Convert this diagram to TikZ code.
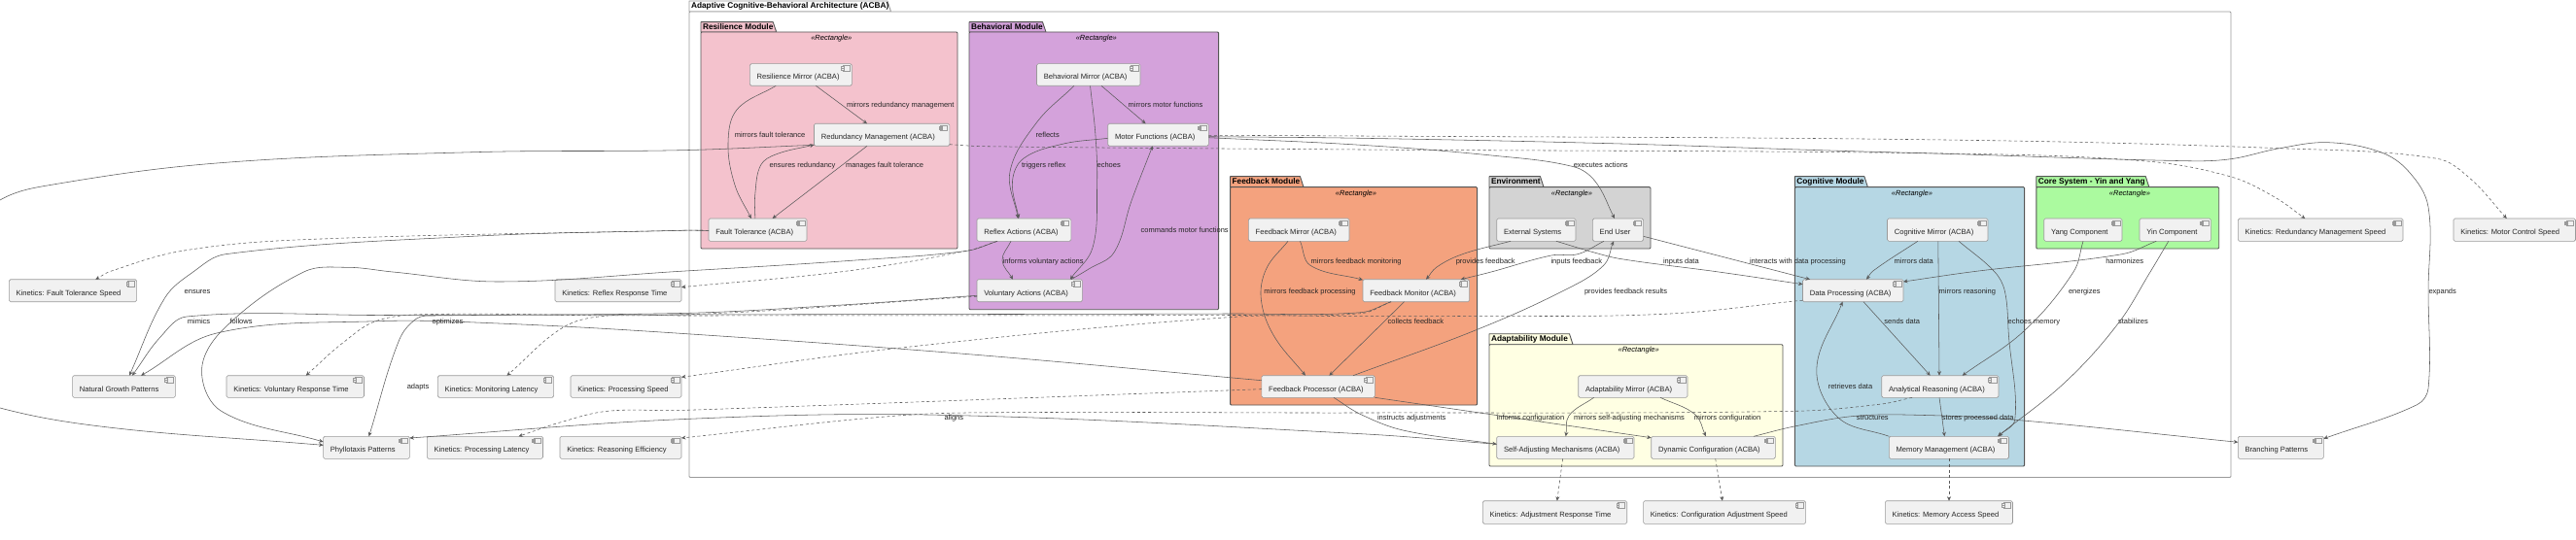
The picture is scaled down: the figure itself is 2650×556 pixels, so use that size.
\documentclass[tikz,border=0pt]{standalone}
\usepackage{fontspec}
\setmainfont{Liberation Sans}
\usetikzlibrary{arrows.meta}
\definecolor{lc}{HTML}{5A5A5A}
\definecolor{nodefill}{HTML}{F1F1F1}
\definecolor{nodeline}{HTML}{9A9A9A}
\definecolor{pkline}{HTML}{555555}
\definecolor{cres}{HTML}{F4C2CD}
\definecolor{cbeh}{HTML}{D4A2DB}
\definecolor{cfee}{HTML}{F4A27E}
\definecolor{cenv}{HTML}{D3D3D3}
\definecolor{ccog}{HTML}{B6D7E4}
\definecolor{ccor}{HTML}{ABFA9F}
\definecolor{cada}{HTML}{FFFFE3}
\tikzset{
 comp/.style={draw=nodeline,fill=nodefill,line width=.6pt,rounded corners=1.5pt,inner sep=0pt,outer sep=0pt,anchor=north west,font=\fontsize{7.6}{9}\selectfont,text=black!85},
 iconbox/.style={draw=nodeline,fill=nodefill,line width=.6pt},
 link/.style={draw=lc,line width=.55pt,-{Stealth[length=4.5pt,width=4pt,inset=1.5pt]}},
 dlink/.style={link,dash pattern=on 3pt off 2.6pt},
 lab/.style={inner sep=0pt,outer sep=0pt,anchor=west,yshift=-.6pt,font=\fontsize{7.5}{9}\selectfont,text=black!85,text height=5.6pt,text depth=1.6pt},
 pktitle/.style={inner sep=0pt,outer sep=0pt,anchor=west,yshift=-.4pt,font=\fontsize{8.3}{9}\bfseries\selectfont,text height=5.6pt,text depth=1.6pt},
 stereo/.style={inner sep=0pt,outer sep=0pt,yshift=-.7pt,font=\fontsize{7.5}{9}\itshape\selectfont,text height=5.6pt,text depth=1.6pt}
}
\newcommand\compnode[6]{%
 \pgfmathsetmacro\cw{#4-#2}\pgfmathsetmacro\ch{#5-#3}%
 \node[comp,minimum height=\ch pt] (#1) at (#2,#3) {\makebox[\cw pt][l]{\hspace{7.3pt}\raisebox{-5pt}[0pt][0pt]{#6}}};
 \draw[iconbox] ([xshift=-9.4,yshift=-2]#1.north east) rectangle ([xshift=-2.2,yshift=-7.3]#1.north east);
 \draw[iconbox] ([xshift=-10.8,yshift=-3]#1.north east) rectangle ([xshift=-8,yshift=-4.2]#1.north east);
 \draw[iconbox] ([xshift=-10.8,yshift=-5]#1.north east) rectangle ([xshift=-8,yshift=-6.2]#1.north east);
}
\newcommand\pkg[9]{%
 \draw[#8,line width=.9pt,line join=round] (#2,#4) -- (#2,#3) -- (#5-3.5,#3) -- (#5,#4) -- cycle;
 \draw[#8,line width=.9pt,rounded corners=1pt] (#2,#4) rectangle (#6,#7);
 \node[pktitle] (#1) at (#2+2,#3+5) {#9};
}
\newcommand\lab[4]{\node[lab] (#1) at (#2,#3) {#4};}
\newcount\splN
\def\spX#1{\csname spx#1\endcsname}
\def\spY#1{\csname spy#1\endcsname}
\def\spD#1{\csname spd#1\endcsname}
\def\spTx#1{\csname sptx#1\endcsname}
\def\spTy#1{\csname spty#1\endcsname}
\newcommand\spl[2]{%
 \global\splN=0
 \foreach \c in {#2}{%
  \global\advance\splN by 1
  \path \c coordinate (spcur);
  \pgfpointanchor{spcur}{center}\pgfgetlastxy{\xx}{\yy}%
  \pgfmathsetmacro\sxx{\xx}\pgfmathsetmacro\syy{\yy}%
  \expandafter\xdef\csname spx\the\splN\endcsname{\sxx}%
  \expandafter\xdef\csname spy\the\splN\endcsname{\syy}%
 }%
 \edef\spn{\the\splN}%
 \pgfmathtruncatemacro\spm{\spn-1}%
 \foreach \i in {1,...,\spm}{%
  \pgfmathtruncatemacro\ip{\i+1}%
  \pgfmathsetmacro\dd{veclen((\spX{\ip})-(\spX{\i}),(\spY{\ip})-(\spY{\i}))}%
  \expandafter\xdef\csname spd\i\endcsname{\dd}%
 }%
 \foreach \i in {1,...,\spn}{%
  \pgfmathtruncatemacro\ia{\i==1?1:\i-1}%
  \pgfmathtruncatemacro\ib{\i==\spn?\spn:\i+1}%
  \pgfmathtruncatemacro\da{\i==1?0:1}%
  \pgfmathtruncatemacro\db{\i==\spn?0:1}%
  \ifnum\da=1 \edef\dsa{\spD{\ia}}\else\def\dsa{0}\fi
  \ifnum\db=1 \edef\dsb{\spD{\i}}\else\def\dsb{0}\fi
  \pgfmathsetmacro\ss{\dsa+\dsb}%
  \pgfmathsetmacro\tx{((\spX{\ib})-(\spX{\ia}))/\ss}%
  \pgfmathsetmacro\ty{((\spY{\ib})-(\spY{\ia}))/\ss}%
  \expandafter\xdef\csname sptx\i\endcsname{\tx}%
  \expandafter\xdef\csname spty\i\endcsname{\ty}%
 }%
 \xdef\splpath{(\spX{1}pt,\spY{1}pt)}%
 \foreach \i in {1,...,\spm}{%
  \pgfmathtruncatemacro\ip{\i+1}%
  \pgfmathsetmacro\hh{\spD{\i}*0.36}%
  \pgfmathsetmacro\cax{\spX{\i}+\spTx{\i}*\hh}%
  \pgfmathsetmacro\cay{\spY{\i}+\spTy{\i}*\hh}%
  \pgfmathsetmacro\cbx{\spX{\ip}-\spTx{\ip}*\hh}%
  \pgfmathsetmacro\cby{\spY{\ip}-\spTy{\ip}*\hh}%
  \xdef\splpath{\splpath\space .. controls (\cax pt,\cay pt) and (\cbx pt,\cby pt) .. (\spX{\ip}pt,\spY{\ip}pt)}%
 }%
 \draw[#1] \splpath;
}
\begin{document}
\begin{tikzpicture}[x=1pt,y=-1pt]
\useasboundingbox (0,0) rectangle (2650,556);
\clip (0,0) rectangle (2650,556);
\fill[white] (0,0) rectangle (2650,556);
\pkg{tacba}{709}{1}{12}{916.5}{2295}{491.5}{draw=nodeline,fill=white}{Adaptive Cognitive-Behavioral Architecture (ACBA)}
\pkg{tres}{721}{22.7}{33}{798.7}{985}{256}{draw=pkline,fill=cres}{Resilience Module}
\pkg{tbeh}{997}{22.7}{33}{1076}{1253.6}{318.7}{draw=pkline,fill=cbeh}{Behavioral Module}
\pkg{tfee}{1265.6}{181.7}{192.7}{1341}{1519.6}{417}{draw=pkline,fill=cfee}{Feedback Module}
\pkg{tenv}{1532}{181.7}{192.7}{1588}{1698}{256}{draw=pkline,fill=cenv}{Environment}
\pkg{tcog}{1846.4}{181.7}{192.7}{1921.4}{2082.6}{480}{draw=pkline,fill=ccog}{Cognitive Module}
\pkg{tcor}{2094.8}{181.7}{192.7}{2210.8}{2282.7}{256}{draw=pkline,fill=ccor}{Core System - Yin and Yang}
\pkg{tada}{1532}{343.7}{354.7}{1618}{1834}{480}{draw=pkline,fill=cada}{Adaptability Module}
\node[stereo] (sres) at (855.3,38.7) {«Rectangle»};
\node[stereo] (sbeh) at (1127.8,38.7) {«Rectangle»};
\node[stereo] (sfee) at (1395,198.7) {«Rectangle»};
\node[stereo] (senv) at (1617,198.7) {«Rectangle»};
\node[stereo] (scog) at (1967,198.7) {«Rectangle»};
\node[stereo] (scor) at (2191,198.7) {«Rectangle»};
\node[stereo] (sada) at (1685.7,359.7) {«Rectangle»};
\compnode{rm}{771.4}{65.7}{876.3}{88.3}{Resilience Mirror (ACBA)}
\compnode{rd}{837.5}{127.3}{976.8}{150.3}{Redundancy Management (ACBA)}
\compnode{ft}{729}{225}{830}{248.3}{Fault Tolerance (ACBA)}
\compnode{bm}{1066.5}{65.7}{1173}{88.3}{Behavioral Mirror (ACBA)}
\compnode{mf}{1139.7}{127.3}{1243.3}{150.3}{Motor Functions (ACBA)}
\compnode{ra}{1005}{225}{1101.8}{248.3}{Reflex Actions (ACBA)}
\compnode{va}{1005}{287.7}{1113.4}{310.7}{Voluntary Actions (ACBA)}
\compnode{fm}{1284.4}{225}{1388}{248.3}{Feedback Mirror (ACBA)}
\compnode{fo}{1402}{287.7}{1511.6}{310.7}{Feedback Monitor (ACBA)}
\compnode{fp}{1297.8}{386.7}{1414.3}{409.3}{Feedback Processor (ACBA)}
\compnode{es}{1539.7}{225}{1621}{248.3}{External Systems}
\compnode{eu}{1638.4}{225}{1690.6}{248.3}{End User}
\compnode{cm}{1941.5}{225}{2045}{248.3}{Cognitive Mirror (ACBA)}
\compnode{dp}{1854.5}{287.7}{1958}{310.7}{Data Processing (ACBA)}
\compnode{ar}{1935.7}{386.7}{2056}{409.3}{Analytical Reasoning (ACBA)}
\compnode{mm}{1943.3}{449.3}{2066.5}{472.3}{Memory Management (ACBA)}
\compnode{am}{1623.7}{386.7}{1736}{409.3}{Adaptability Mirror (ACBA)}
\compnode{sa}{1539.7}{449.3}{1681}{472.3}{Self-Adjusting Mechanisms (ACBA)}
\compnode{dc}{1698.7}{449.3}{1826.3}{472.3}{Dynamic Configuration (ACBA)}
\compnode{ya}{2102.7}{225}{2183}{248.3}{Yang Component}
\compnode{yi}{2201}{225}{2274.4}{248.3}{Yin Component}
\compnode{krm}{2302.3}{225}{2472}{248.3}{Kinetics: Redundancy Management Speed}
\compnode{kmc}{2524}{225}{2649.5}{248.3}{Kinetics: Motor Control Speed}
\compnode{bp}{2302.3}{449.3}{2390.4}{472.3}{Branching Patterns}
\compnode{kma}{1939.3}{515.7}{2070.5}{539.3}{Kinetics: Memory Access Speed}
\compnode{kca}{1690.6}{515.7}{1857.6}{539.3}{Kinetics: Configuration Adjustment Speed}
\compnode{kar}{1525.4}{515.7}{1673.7}{539.3}{Kinetics: Adjustment Response Time}
\compnode{kft}{9.4}{287.7}{140.6}{310.7}{Kinetics: Fault Tolerance Speed}
\compnode{krr}{571}{287.7}{701}{310.7}{Kinetics: Reflex Response Time}
\compnode{ngp}{74.6}{386.7}{180.4}{409.3}{Natural Growth Patterns}
\compnode{kvr}{233}{386.7}{374.5}{409.3}{Kinetics: Voluntary Response Time}
\compnode{kml}{450.4}{386.7}{569.6}{409.3}{Kinetics: Monitoring Latency}
\compnode{kps}{587}{386.7}{701}{409.3}{Kinetics: Processing Speed}
\compnode{php}{332.6}{449.3}{421.4}{472.3}{Phyllotaxis Patterns}
\compnode{kpl}{439.3}{449.3}{558.5}{472.3}{Kinetics: Processing Latency}
\compnode{kre}{576}{449.3}{701}{472.3}{Kinetics: Reasoning Efficiency}
\draw[link] ([xshift=68]rm.south west) -- ([xshift=54.5]rd.north west);
\spl{link}{([xshift=26.8]rm.south west),(758,113),(749,147),(755.8,190),([xshift=43.8]ft.north west)}
\spl{link}{([xshift=47.8]ft.north west),(776.8,200),(782.6,170),(798,159),([yshift=-21.7]rd.north west)}
\draw[link] ([xshift=54.5]rd.south west) -- ([xshift=65.6]ft.north west);
\spl{link}{([yshift=-12.3]ft.north west),(700,237.3),(485.7,243.3),(232,261.7),(198.7,280),(169.6,306.7),([xshift=58.4]ngp.north west)}
\spl{dlink}{([yshift=-12.3]ft.north west),(700,237.3),(312.5,246.7),(187.5,258.3),(113.8,279.3),([xshift=88.8]kft.north west)}
\spl{link}{([yshift=-22]rd.north west),(700,154.7),(486.6,156.7),(223,168),(44.6,191.7),(0,206),(-40,240),(-70,320),(-40,400),(0,420),(111.6,440),(312.5,456.7),([yshift=-9]php.north west)}
\spl{dlink}{([yshift=-21.4]rd.north east),(1012,150.7),(1400,154),(2000,158),(2208,166),(2295,182),(2340,203),([xshift=69]krm.north west)}
\spl{dlink}{([yshift=-12]mf.north east),(1400,140),(2000,144),(2345,152.7),(2507,163.3),(2540.5,183.3),([xshift=54.8]kmc.north west)}
\spl{link}{([yshift=-13.4]mf.north east),(1400,142.3),(1656.7,147.7),(1882,155),(2000,158.3),(2249.5,165.7),(2295,163.7),(2345,152.7),(2395,146.7),(2449,156.7),(2478,176.7),(2498,213),(2498,300),(2498,400),(2486.5,416.7),([yshift=-2.4]bp.north east)}
\spl{link}{([yshift=-14.4]mf.north east),(1400,149.3),(1534,160),(1618.8,171.7),(1641,186.7),([xshift=22.6]eu.north west)}
\draw[link] ([xshift=66.5]bm.south west) -- ([xshift=38.9]mf.north west);
\spl{link}{([xshift=38.5]bm.south west),(1066,126.7),(1039,176.7),([xshift=42.3]ra.north west)}
\spl{link}{([xshift=55]bm.south west),(1127,140),(1128.6,190),(1124,255),([xshift=95.9]va.north west)}
\spl{link}{([yshift=-15]mf.north west),(1092.9,148.3),(1052.7,163.3),(1041.5,186.7),([xshift=43]ra.north west)}
\spl{link}{([xshift=35]ra.south west),(1031,268),([xshift=37]va.north west)}
\spl{link}{([xshift=97]va.north west),(1120,277),(1146,260),(1164,206.7),([xshift=46]mf.south west)}
\spl{link}{([yshift=-16.6]va.north west),(850,315),(700,322.5),(400,324.5),(192,326),(165,347),([xshift=61.4]ngp.north west)}
\spl{dlink}{([yshift=-17.5]va.north west),(700,324),(446,323.5),(388.4,330),(352.7,353),([xshift=81.7]kvr.north west)}
\spl{link}{([xshift=21]ra.south west),(994.6,258.3),(880,268),(700,279.3),(513.4,290),(404,280),(357,275.3),(312.5,280),(232,336.7),(207.6,380),(227.7,423.3),([yshift=-5.7]php.north west)}
\spl{dlink}{([xshift=21]ra.south west),(994.6,258.3),(869.6,279.3),([yshift=-8]krr.north east)}
\spl{link}{([xshift=29]fo.south west),(1400,321.7),(1265,323),(700,324),(446,325),(428.6,328),(410.7,350),([xshift=46.9]php.north west)}
\spl{dlink}{([xshift=29]fo.south west),(1400,322.7),(1270,324.5),(700,325),(625,325),(580,336.7),([xshift=71]kml.north west)}
\spl{dlink}{([yshift=-21.5]dp.north west),(1712.5,323.3),(1500,325.5),(1400,325.7),(1267,326.5),(930,357.7),([yshift=-1.6]kps.north east)}
\spl{link}{([yshift=-5]fp.north west),(1000,365),(700,343.3),(513,333),(388,330.7),(223,343),([xshift=70.4]ngp.north west)}
\spl{dlink}{([yshift=-14]fp.north west),(700,422.5),(625,423.3),(576,435),([xshift=94.2]kpl.north west)}
\spl{dlink}{([xshift=31.3]ar.south west),(1935.7,416),(1846,423.3),(1400,425),(1035,424.7),(923,428),([yshift=-1.7]kre.north east)}
\spl{link}{([yshift=-8]sa.north west),(1400,446.7),(968,427.3),(700,431.7),([yshift=-1.7]php.north east)}
\spl{link}{([xshift=74.2]fp.south west),(1400,426.7),(1444.6,443.3),([yshift=-8]sa.north west)}
\draw[link] ([yshift=-22.6]fp.north east) -- ([yshift=-1.4]dc.north west);
\spl{link}{([xshift=105.3]dc.north west),(1846,439),(1909,428.3),(1980,427.5),(2072.8,432.3),([yshift=-6]bp.north west)}
\spl{link}{([xshift=14.3]es.south west),(1504.5,261.7),(1478,275),([xshift=65]fo.north west)}
\spl{link}{([xshift=61.2]es.south west),(1640,260),(1668,266.7),(1768,280),([yshift=-5]dp.north west)}
\draw[link] ([yshift=-18.3]eu.north east) -- ([xshift=7.5]dp.north west);
\spl{link}{([xshift=11.6]eu.south west),(1623,261.7),(1596,263),(1534,280),([xshift=100.7]fo.north west)}
\spl{link}{([xshift=94.2]fp.north west),(1517.9,340),(1607,300),(1649.6,273.3),([xshift=21.6]eu.south west)}
\spl{link}{([xshift=53.1]fm.south west),(1348,273.3),([yshift=-.5]fo.north west)}
\spl{link}{([xshift=40.6]fm.south west),(1302.7,276.7),(1297.3,308),(1310,345),([xshift=45.1]fp.north west)}
\draw[link] ([xshift=42.6]fo.south west) -- ([xshift=69.6]fp.north west);
\spl{link}{([xshift=31.3]cm.south west),(1926.8,279),([xshift=65.5]dp.north west)}
\draw[link] ([xshift=52.3]cm.south west) -- ([xshift=59.3]ar.north west);
\spl{link}{([xshift=73.5]cm.south west),(2052,280),(2062.4,300),(2066.5,346.7),(2072.8,431.7),([xshift=112.7]mm.north west)}
\spl{link}{([xshift=17.3]yi.south west),(2183,261.7),(2033,279.3),([yshift=-2.3]dp.north east)}
\spl{link}{([xshift=40.3]ya.south west),(2133,280),(2083,340),([xshift=83]ar.north west)}
\spl{link}{([xshift=29.8]yi.south west),(2212,280),(2178.8,333.3),(2124.7,393.3),([xshift=111.7]mm.north west)}
\draw[link] ([xshift=62.5]dp.south west) -- ([xshift=50]ar.north west);
\draw[link] ([xshift=59.3]ar.south west) -- ([xshift=57.1]mm.north west);
\spl{link}{(mm.north west),(1891,430),(1868.8,380),([xshift=41]dp.south west)}
\spl{link}{([xshift=16]am.south west),(1614,428),([xshift=71]sa.north west)}
\spl{link}{([xshift=84.3]am.south west),(1743.7,426.7),([xshift=56.3]dc.north west)}
\draw[dlink] ([xshift=67.9]sa.south west) -- ([xshift=76.4]kar.north west);
\draw[dlink] ([xshift=66]dc.south west) -- ([xshift=81.3]kca.north west);
\draw[dlink] ([xshift=61.7]mm.south west) -- ([xshift=65.7]kma.north west);
\lab{l01}{871}{107.7}{mirrors redundancy management}
\lab{l02}{755.8}{138.7}{mirrors fault tolerance}
\lab{l03}{791.5}{169.7}{ensures redundancy}
\lab{l04}{870}{169.7}{manages fault tolerance}
\lab{l05}{189.7}{299.7}{ensures}
\lab{l06}{1160.7}{107.7}{mirrors motor functions}
\lab{l07}{1065.6}{138.7}{reflects}
\lab{l08}{1128.6}{169.7}{echoes}
\lab{l09}{1051}{169.7}{triggers reflex}
\lab{l10}{1031.7}{268.7}{informs voluntary actions}
\lab{l11}{1173.7}{236.7}{commands motor functions}
\lab{l12}{192.9}{330.7}{mimics}
\lab{l13}{236.6}{330.7}{follows}
\lab{l14}{444.6}{330.7}{optimizes}
\lab{l15}{418.8}{397.7}{adapts}
\lab{l16}{971.5}{430}{aligns}
\lab{l17}{1417}{430}{instructs adjustments}
\lab{l18}{1539.7}{430}{informs configuration}
\lab{l19}{1619}{430}{mirrors self-adjusting mechanisms}
\lab{l20}{1742.9}{430}{mirrors configuration}
\lab{l21}{1909.8}{430}{structures}
\lab{l22}{1997.8}{430}{stores processed data}
\lab{l23}{1618.8}{169.7}{executes actions}
\lab{l24}{1497.8}{268.7}{provides feedback}
\lab{l25}{1595.5}{268.7}{inputs feedback}
\lab{l26}{1711}{268.7}{inputs data}
\lab{l27}{1800}{268.7}{interacts with data processing}
\lab{l28}{1948.7}{268.7}{mirrors data}
\lab{l29}{1348.7}{268.7}{mirrors feedback monitoring}
\lab{l30}{1300.4}{299.7}{mirrors feedback processing}
\lab{l31}{1630}{299.7}{provides feedback results}
\lab{l32}{1427.7}{330.7}{collects feedback}
\lab{l33}{1994.6}{299.7}{mirrors reasoning}
\lab{l34}{1938.4}{330.7}{sends data}
\lab{l35}{1880.8}{397.7}{retrieves data}
\lab{l36}{2065.7}{330.7}{echoes memory}
\lab{l37}{2166.3}{268.7}{harmonizes}
\lab{l38}{2128}{299.7}{energizes}
\lab{l39}{2179}{330.7}{stabilizes}
\lab{l40}{2498.5}{299.7}{expands}
\end{tikzpicture}
\end{document}
